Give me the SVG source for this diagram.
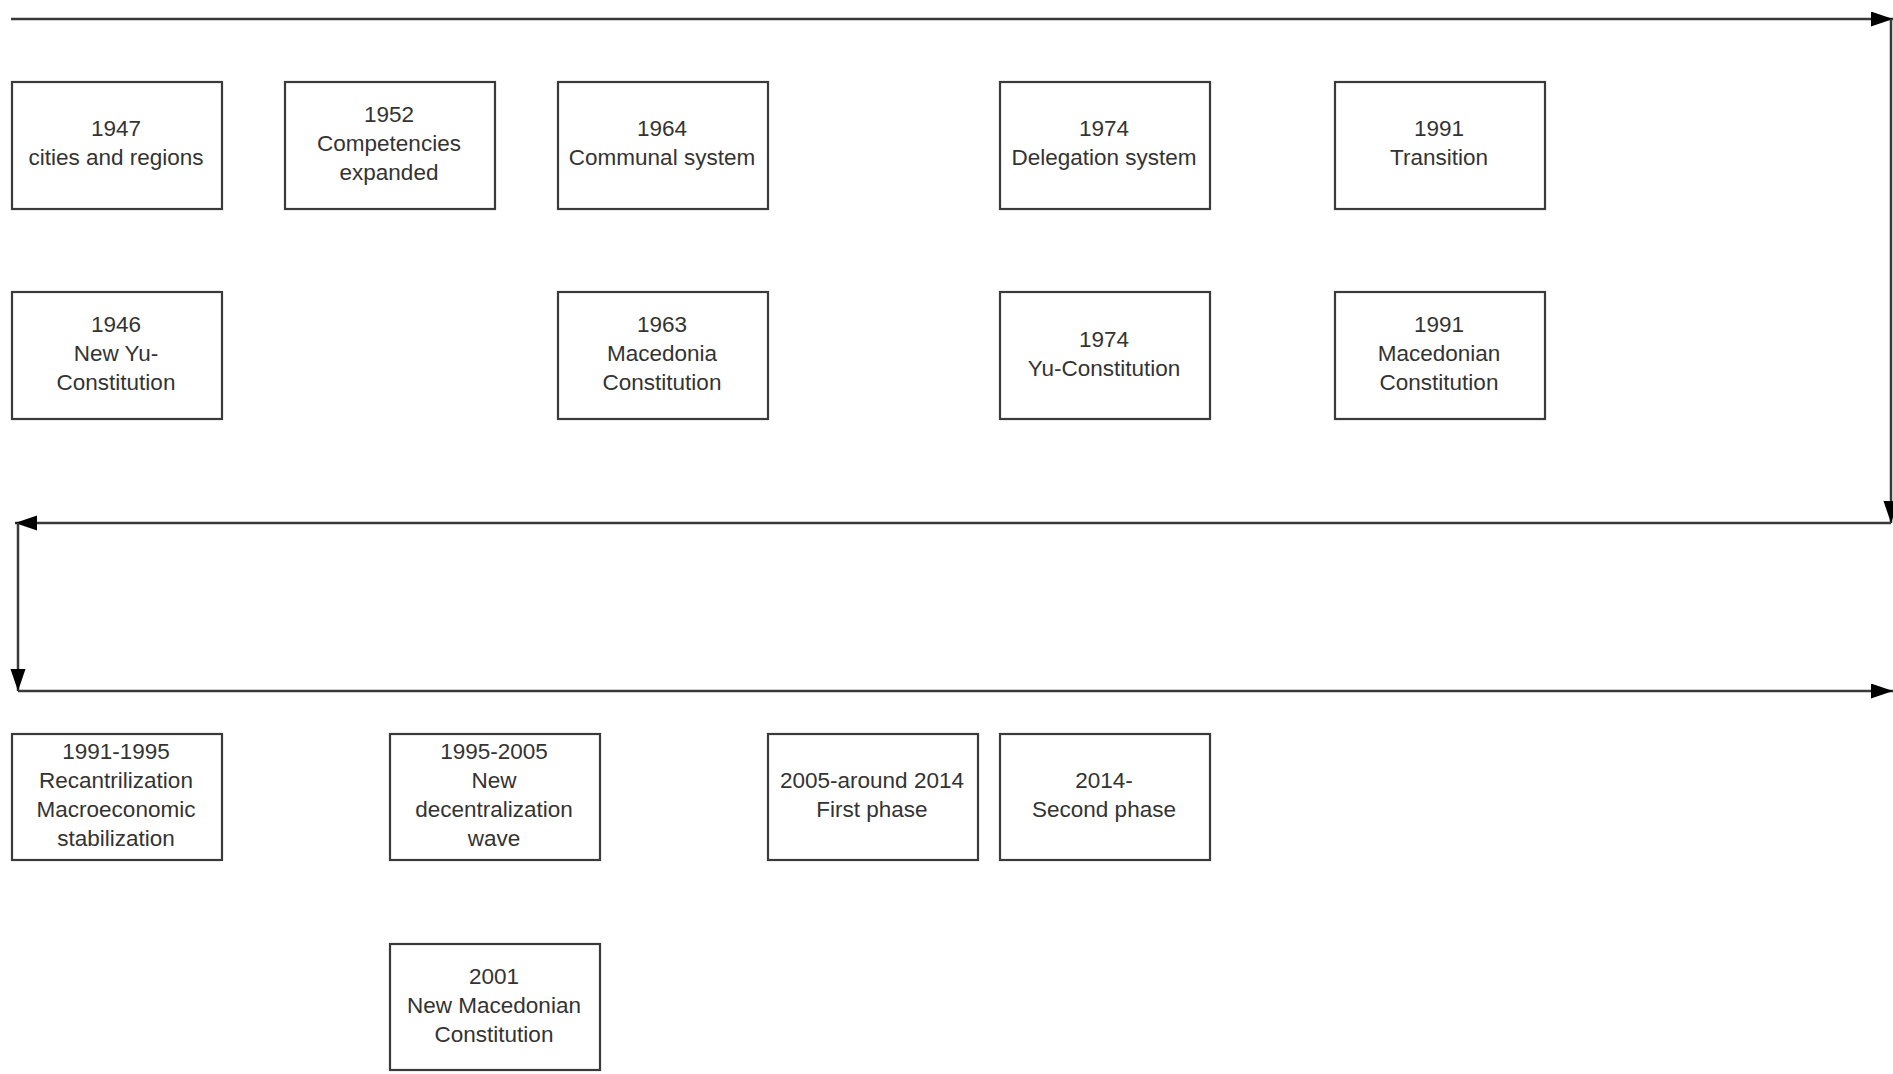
<svg xmlns="http://www.w3.org/2000/svg" width="1893" height="1074" viewBox="0 0 1893 1074">
<defs>
<style>
.box{fill:#fff;stroke:#3a3a3a;stroke-width:2.2}
.t{font-family:"Liberation Sans",Arial,sans-serif;font-size:22.5px;fill:#333;text-anchor:middle}
.ln{fill:none;stroke:#3a3a3a;stroke-width:2.5}
</style>
<marker id="ah" markerUnits="userSpaceOnUse" markerWidth="24" markerHeight="16" refX="22" refY="7.5" orient="auto">
<path d="M0,0 L22,7.5 L0,15 Z" fill="#000"/>
</marker>
</defs>
<rect width="1893" height="1074" fill="#fff"/>
<g id="connectors">
<line class="ln" x1="11" y1="19" x2="1893" y2="19" marker-end="url(#ah)"/>
<line class="ln" x1="1891" y1="19" x2="1891" y2="523" marker-end="url(#ah)" stroke-width="1.8"/>
<line class="ln" x1="1891" y1="523" x2="15" y2="523" marker-end="url(#ah)"/>
<line class="ln" x1="18" y1="523" x2="18" y2="691" marker-end="url(#ah)"/>
<line class="ln" x1="18" y1="691" x2="1893" y2="691" marker-end="url(#ah)"/>
</g>
<g id="n1947"><rect class="box" x="12" y="82" width="210" height="127"/><text class="t" x="116" y="136">1947</text><text class="t" x="116" y="165">cities and regions</text></g>
<g id="n1952"><rect class="box" x="285" y="82" width="210" height="127"/><text class="t" x="389" y="122">1952</text><text class="t" x="389" y="151">Competencies</text><text class="t" x="389" y="180">expanded</text></g>
<g id="n1964"><rect class="box" x="558" y="82" width="210" height="127"/><text class="t" x="662" y="136">1964</text><text class="t" x="662" y="165">Communal system</text></g>
<g id="n1974a"><rect class="box" x="1000" y="82" width="210" height="127"/><text class="t" x="1104" y="136">1974</text><text class="t" x="1104" y="165">Delegation system</text></g>
<g id="n1991a"><rect class="box" x="1335" y="82" width="210" height="127"/><text class="t" x="1439" y="136">1991</text><text class="t" x="1439" y="165">Transition</text></g>
<g id="n1946"><rect class="box" x="12" y="292" width="210" height="127"/><text class="t" x="116" y="332">1946</text><text class="t" x="116" y="361">New Yu-</text><text class="t" x="116" y="390">Constitution</text></g>
<g id="n1963"><rect class="box" x="558" y="292" width="210" height="127"/><text class="t" x="662" y="332">1963</text><text class="t" x="662" y="361">Macedonia</text><text class="t" x="662" y="390">Constitution</text></g>
<g id="n1974b"><rect class="box" x="1000" y="292" width="210" height="127"/><text class="t" x="1104" y="347">1974</text><text class="t" x="1104" y="376">Yu-Constitution</text></g>
<g id="n1991b"><rect class="box" x="1335" y="292" width="210" height="127"/><text class="t" x="1439" y="332">1991</text><text class="t" x="1439" y="361">Macedonian</text><text class="t" x="1439" y="390">Constitution</text></g>
<g id="n1991-1995"><rect class="box" x="12" y="734" width="210" height="126"/><text class="t" x="116" y="759">1991-1995</text><text class="t" x="116" y="788">Recantrilization</text><text class="t" x="116" y="817">Macroeconomic</text><text class="t" x="116" y="846">stabilization</text></g>
<g id="n1995-2005"><rect class="box" x="390" y="734" width="210" height="126"/><text class="t" x="494" y="759">1995-2005</text><text class="t" x="494" y="788">New</text><text class="t" x="494" y="817">decentralization</text><text class="t" x="494" y="846">wave</text></g>
<g id="n2005"><rect class="box" x="768" y="734" width="210" height="126"/><text class="t" x="872" y="788">2005-around 2014</text><text class="t" x="872" y="817">First phase</text></g>
<g id="n2014"><rect class="box" x="1000" y="734" width="210" height="126"/><text class="t" x="1104" y="788">2014-</text><text class="t" x="1104" y="817">Second phase</text></g>
<g id="n2001"><rect class="box" x="390" y="944" width="210" height="126"/><text class="t" x="494" y="984">2001</text><text class="t" x="494" y="1013">New Macedonian</text><text class="t" x="494" y="1042">Constitution</text></g>
</svg>
